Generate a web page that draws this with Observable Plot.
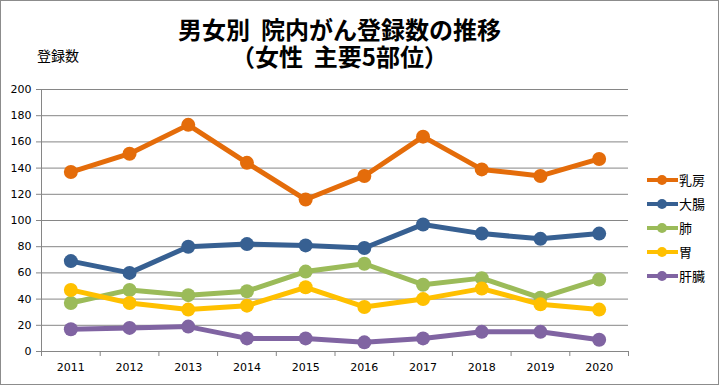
<!DOCTYPE html>
<html><head><meta charset="utf-8">
<script src="https://cdn.jsdelivr.net/npm/d3@7"></script>
<script src="https://cdn.jsdelivr.net/npm/@observablehq/plot@0.6"></script>
<style>
body{margin:0;background:#fff;}
#wrap{position:relative;width:719px;height:385px;overflow:hidden;background:#fff;font-family:"Noto Sans CJK JP",sans-serif;}
#frame{position:absolute;left:0;top:0;width:719px;height:385px;box-sizing:border-box;border:1px solid #8c8c8c;pointer-events:none;}
#title{position:absolute;left:0;top:15px;width:679px;text-align:center;font-weight:bold;font-size:24px;line-height:27px;white-space:pre;color:#000;}
#ylab{position:absolute;left:37px;top:45px;font-size:14px;line-height:20px;color:#000;}
#chart{position:absolute;left:0;top:0;}
#legend{position:absolute;left:0;top:0;}
</style></head>
<body>
<div id="wrap">
  <div id="chart"></div>
  <div id="title">男女別  院内がん登録数の推移
（女性  主要5部位）</div>
  <div id="ylab">登録数</div>
  <svg id="legend" width="719" height="385"></svg>
  <div id="frame"></div>
</div>
<script>
const years = [2011,2012,2013,2014,2015,2016,2017,2018,2019,2020];
const sites = ["乳房","大腸","肺","胃","肝臓"];
const colors = ["#E46C0A","#376092","#9BBB59","#FFC000","#8064A2"];
const breast = [137,151,173,144,116,134,164,139,134,147];
const colon  = [69,60,80,82,81,79,97,90,86,90];
const lung   = [37,47,43,46,61,67,51,56,41,55];
const stomach= [47,37,32,35,49,34,40,48,36,32];
const liver  = [17,18,19,10,10,7,10,15,15,9];
const yTicks = [0,20,40,60,80,100,120,140,160,180,200];

const series = [breast, colon, lung, stomach, liver];
const data = sites.flatMap((s,i)=>years.map((yr,j)=>({site:s, year:yr, value:series[i][j]})));
const bounds = [...years.map(y=>y-0.5), years[years.length-1]+0.5];

const seriesMarks = sites.flatMap(s => {
  const d = data.filter(r => r.site === s);
  return [
    Plot.line(d,{x:"year",y:"value",stroke:"site",strokeWidth:5}),
    Plot.dot(d,{x:"year",y:"value",fill:"site",r:7})
  ];
});

const chart = Plot.plot({
  width:719, height:385,
  marginLeft:41, marginRight:91, marginTop:89, marginBottom:34,
  style:{fontFamily:"DejaVu Sans, Verdana, sans-serif", fontSize:"11px", color:"#000", background:"transparent", overflow:"visible"},
  x:{type:"linear", domain:[bounds[0], bounds[bounds.length-1]]},
  y:{domain:[0,200]},
  color:{domain:sites, range:colors},
  marks:[
    Plot.gridY(yTicks,{stroke:"#868686", strokeOpacity:1}),
    Plot.axisY(yTicks,{tickSize:5, tickPadding:5, stroke:"#868686", label:null, fontSize:11}),
    Plot.ruleX([bounds[0]],{stroke:"#868686"}),
    Plot.ruleY([0],{stroke:"#868686"}),
    Plot.axisX(bounds,{tickSize:5, tickFormat:()=>"", stroke:"#868686", label:null}),
    Plot.axisX(years,{tickSize:0, tickPadding:12, tickFormat:d=>String(d), label:null, fontSize:11}),
    ...seriesMarks
  ]
});
document.getElementById("chart").appendChild(chart);

const lg = d3.select("#legend");
sites.forEach((s,i)=>{
  const g = lg.append("g").attr("transform",`translate(0,${180+24*i})`);
  g.append("line").attr("x1",647).attr("x2",678).attr("y1",0).attr("y2",0).attr("stroke",colors[i]).attr("stroke-width",4);
  g.append("circle").attr("cx",662).attr("cy",0).attr("r",5).attr("fill",colors[i]);
  g.append("text").attr("x",679).attr("y",0).attr("dy","0.35em").attr("font-size",13).attr("font-family","Noto Sans CJK JP, sans-serif").attr("fill","#000").text(s);
});
</script>
</body></html>
